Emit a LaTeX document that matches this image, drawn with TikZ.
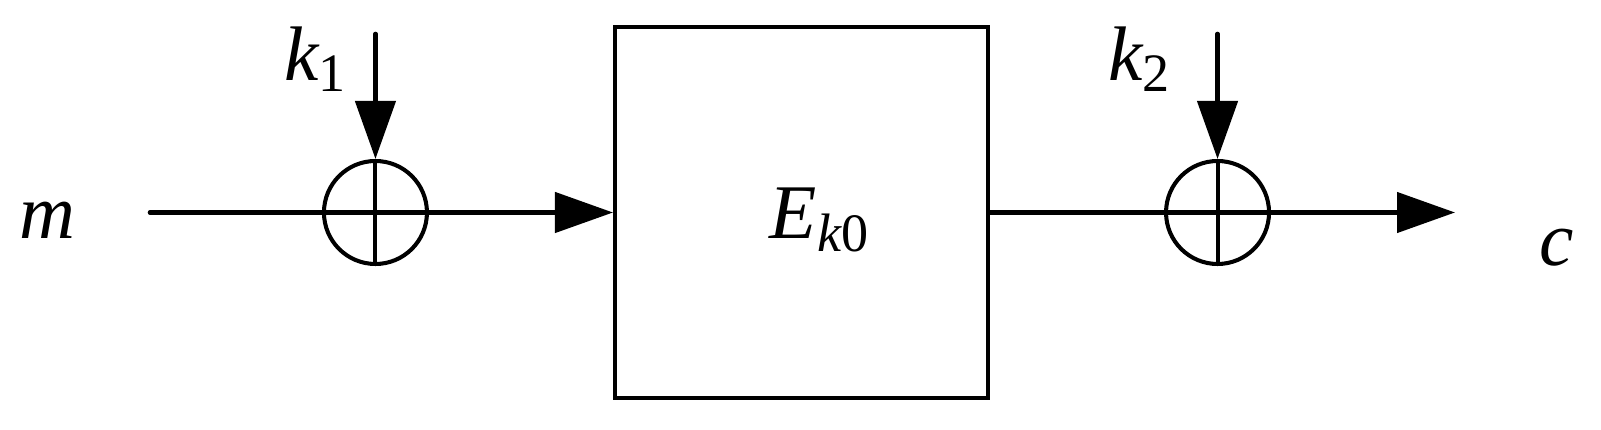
\documentclass[tikz,border=0pt]{standalone}
\usepackage{fontspec}
\setmainfont{Liberation Serif}
\usetikzlibrary{positioning,arrows.meta}

\begin{document}
\begin{tikzpicture}[node distance=1.84cm, line width=1.3pt, line cap=round,
    >={Triangle[length=0.58cm,width=0.4cm]},
    font=\fontsize{22}{26}\selectfont\itshape,
    xor/.style={circle, draw, minimum size=1.03cm, inner sep=0pt, line width=1.15pt,
      path picture={\draw[line width=1.15pt] (path picture bounding box.north) -- (path picture bounding box.south);}}]
    \useasboundingbox (0,0) rectangle (16.01,4.3);
    \node (enc) [draw, rectangle, line width=1.15pt, minimum width=3.73cm, minimum height=3.71cm] at (8.015,2.175) {};
    \node (xor1) [xor, left=of enc] {};
    \node (xor2) [xor, right=1.74cm of enc] {};
    \coordinate (mstart) at (1.5,2.175);
    \coordinate (cend) at (14.55,2.175);
    \coordinate (k1top) at ([yshift=1.25cm]xor1.north);
    \coordinate (k2top) at ([yshift=1.25cm]xor2.north);
    \node (m) at (0.47,2.10) {m};
    \node (c) at (15.57,1.82) {c};
    \node (k1) at (3.16,3.71) {k\textsubscript{\upshape 1}};
    \node (k2) at (11.40,3.71) {k\textsubscript{\upshape 2}};
    \node (ek0) at (8.20,2.10) {E\textsubscript{k\upshape 0}};
    \draw[->] (mstart) -- (enc.west);
    \draw[->] (enc.east) -- (cend);
    \draw[->] (k1top) -- (xor1.north);
    \draw[->] (k2top) -- (xor2.north);
\end{tikzpicture}
\end{document}
